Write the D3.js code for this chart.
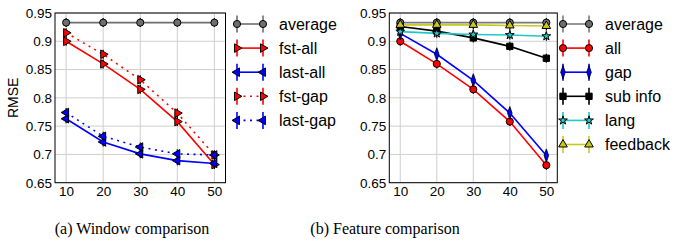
<!DOCTYPE html>
<meta charset="utf-8">
<style>
    body { margin: 0; background: #fff; }
    text { font-family: "Liberation Sans", Arial, sans-serif; fill: #000; }
    .grid line { stroke: #cfcfcf; stroke-width: 1; }
    .caption { font-family: "Liberation Serif", "Times New Roman", serif; font-size: 16px; }
</style>
<body>
<div id="plotarea"></div>
<script src="https://cdn.jsdelivr.net/npm/d3@7/dist/d3.min.js"></script>
<script>

    var windows = [10, 20, 30, 40, 50];
    var yTicks = [0.65, 0.7, 0.75, 0.8, 0.85, 0.9, 0.95];
    var yTickLabels = ["0.65", "0.7", "0.75", "0.8", "0.85", "0.9", "0.95"];

    // (a) window comparison
    var winAverage = [0.933, 0.933, 0.933, 0.933, 0.933];
    var fstAll  = [0.900, 0.860, 0.815, 0.758, 0.682];
    var lastAll = [0.763, 0.722, 0.701, 0.689, 0.684];
    var fstGap  = [0.915, 0.877, 0.832, 0.773, 0.699];
    var lastGap = [0.774, 0.732, 0.713, 0.701, 0.699];

    // (b) feature comparison
    var featAverage = [0.933, 0.933, 0.933, 0.933, 0.933];
    var featAll  = [0.900, 0.860, 0.815, 0.758, 0.681];
    var featGap  = [0.914, 0.877, 0.831, 0.773, 0.698];
    var subInfo  = [0.926, 0.918, 0.906, 0.891, 0.870];
    var lang     = [0.917, 0.914, 0.912, 0.911, 0.909];
    var feedback = [0.929, 0.929, 0.929, 0.928, 0.927];

    var svg = d3.select("#plotarea").append("svg")
            .attr("width", 692)
            .attr("height", 243);

    function markerPath(type, size) {
        if (type === "circle") return d3.symbol(d3.symbolCircle, size)();
        if (type === "square") return d3.symbol(d3.symbolSquare, size)();
        if (type === "star") return d3.symbol(d3.symbolStar, size)();
        if (type === "diamond") return d3.symbol(d3.symbolDiamond, size)();
        return d3.symbol(d3.symbolTriangle, size)();
    }

    function marker(g, type, x, y, fill) {
        var rot = 0, sx = 1, size = 32;
        if (type === "right") rot = 90;
        if (type === "left") rot = -90;
        if (type === "circle") size = 40;
        if (type === "diamond") { sx = 0.6; size = 50; }
        if (type === "square") size = 40;
        if (type === "star") size = 24;
        if (type === "up") size = 32;
        g.append("path")
            .attr("d", markerPath(type, size))
            .attr("transform", "translate(" + x + "," + y + ") rotate(" + rot + ") scale(" + sx + ",1)")
            .attr("fill", fill)
            .attr("stroke", "#000")
            .attr("stroke-width", 1);
    }

    function drawPanel(opts) {
        var g = svg.append("g");
        var x = d3.scaleLinear().domain([7, 53]).range([opts.left, opts.right]);
        var y = d3.scaleLinear().domain([0.65, 0.95]).range([182.7, 13]);

        var grid = g.append("g").attr("class", "grid");
        grid.selectAll(".gx").data(windows).enter().append("line")
            .attr("x1", function(d) { return x(d); }).attr("x2", function(d) { return x(d); })
            .attr("y1", y(0.95)).attr("y2", y(0.65));
        grid.selectAll(".gy").data(yTicks).enter().append("line")
            .attr("y1", function(d) { return y(d); }).attr("y2", function(d) { return y(d); })
            .attr("x1", opts.left).attr("x2", opts.right);

        var line = d3.line()
                .x(function(d, i) { return x(windows[i]); })
                .y(function(d) { return y(d); });

        opts.series.forEach(function(s) {
            g.append("path")
                .attr("d", line(s.values))
                .attr("fill", "none")
                .attr("stroke", s.color)
                .attr("stroke-width", 1.6)
                .attr("stroke-dasharray", s.dotted ? "2,4.5" : null);
        });
        opts.series.forEach(function(s) {
            s.values.forEach(function(v, i) {
                g.append("line")
                    .attr("x1", x(windows[i])).attr("x2", x(windows[i]))
                    .attr("y1", y(v) - 4.5).attr("y2", y(v) + 4.5)
                    .attr("stroke", "#000").attr("stroke-width", 1.2);
                marker(g, s.marker, x(windows[i]), y(v), s.fill);
            });
        });

        // frame
        g.append("rect")
            .attr("x", opts.left).attr("y", y(0.95))
            .attr("width", opts.right - opts.left).attr("height", y(0.65) - y(0.95))
            .attr("fill", "none").attr("stroke", "#000").attr("stroke-width", 1);

        var yAxis = d3.axisLeft(y).tickValues(yTicks).tickSize(0).tickPadding(3)
                .tickFormat(function(d, i) { return yTickLabels[i]; });
        var ya = g.append("g").attr("transform", "translate(" + opts.left + ",0)").call(yAxis);
        ya.select(".domain").remove();
        ya.selectAll("text").style("font-size", "13.5px").style("font-family", "Liberation Sans, Arial, sans-serif");

        var xAxis = d3.axisBottom(x).tickValues(windows).tickSize(0).tickPadding(4);
        var xa = g.append("g").attr("transform", "translate(0," + y(0.65) + ")").call(xAxis);
        xa.select(".domain").remove();
        xa.selectAll("text").style("font-size", "13.5px").style("font-family", "Liberation Sans, Arial, sans-serif");

        if (opts.ylabel) {
            g.append("text")
                .attr("transform", "translate(18," + y(0.8) + ") rotate(-90)")
                .attr("text-anchor", "middle")
                .style("font-size", "14px")
                .text(opts.ylabel);
        }

        // legend
        var lg = g.append("g");
        opts.series.forEach(function(s, i) {
            var ly = 24 + i * 24.1;
            var x0 = opts.legendX, x1 = opts.legendX + 26;
            lg.append("line").attr("x1", x0).attr("x2", x1).attr("y1", ly).attr("y2", ly)
                .attr("stroke", s.color).attr("stroke-width", 1.6)
                .attr("stroke-dasharray", s.dotted ? "2,4.5" : null);
            [x0, x1].forEach(function(px) {
                lg.append("line").attr("x1", px).attr("x2", px).attr("y1", ly - 8.5).attr("y2", ly + 8.5)
                    .attr("stroke", s.color).attr("stroke-width", 1.6);
                marker(lg, s.marker, px, ly, s.fill);
            });
            lg.append("text").attr("x", opts.legendX + 42).attr("y", ly + 5.5)
                .style("font-size", "16px").text(s.name);
        });

        svg.append("text").attr("class", "caption")
            .attr("x", opts.captionX).attr("y", 234)
            .attr("text-anchor", "middle")
            .text(opts.caption);
    }

    drawPanel({
        left: 55, right: 225.5, legendX: 237, captionX: 132, ylabel: "RMSE",
        caption: "(a) Window comparison",
        series: [
            {name: "average",  values: winAverage, color: "#6e6e6e", fill: "#6e6e6e", marker: "circle"},
            {name: "fst-all",  values: fstAll,  color: "#ff0000", fill: "#ff0000", marker: "right"},
            {name: "last-all", values: lastAll, color: "#0000ff", fill: "#0000ff", marker: "left"},
            {name: "fst-gap",  values: fstGap,  color: "#ff0000", fill: "#ff0000", marker: "right", dotted: true},
            {name: "last-gap", values: lastGap, color: "#0000ff", fill: "#0000ff", marker: "left", dotted: true}
        ]
    });

    drawPanel({
        left: 389.3, right: 557.3, legendX: 563, captionX: 385,
        caption: "(b) Feature comparison",
        series: [
            {name: "average",  values: featAverage, color: "#7a7a7a", fill: "#6e6e6e", marker: "circle"},
            {name: "all",      values: featAll,  color: "#ff0000", fill: "#ff0000", marker: "circle"},
            {name: "gap",      values: featGap,  color: "#0000ff", fill: "#0000ff", marker: "diamond"},
            {name: "sub info", values: subInfo,  color: "#000000", fill: "#000000", marker: "square"},
            {name: "lang",     values: lang,     color: "#1ec8c8", fill: "#1ec8c8", marker: "star"},
            {name: "feedback", values: feedback, color: "#c8c81e", fill: "#c8c81e", marker: "up"}
        ]
    });

</script>
